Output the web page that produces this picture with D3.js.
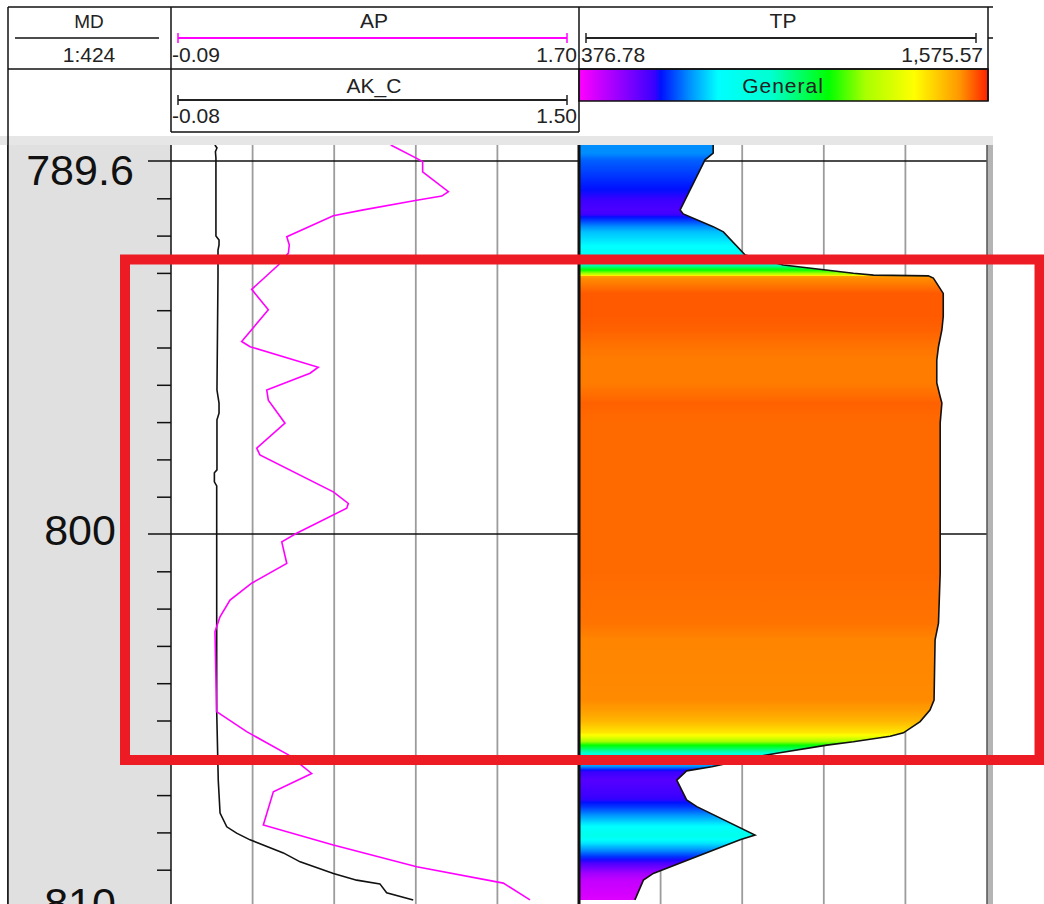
<!DOCTYPE html>
<html>
<head>
<meta charset="utf-8">
<script src="https://cdn.jsdelivr.net/npm/d3@7.9.0/dist/d3.min.js"></script>
<style>
  body { margin: 0; background: #fff; }
  svg { display: block; font-family: "Liberation Sans", Arial, sans-serif; }
</style>
</head>
<body>
<svg id="chart" width="1044" height="904"></svg>
<script>
// curve ranges shown in the header
const apRange = [-0.09, 1.70];
const akRange = [-0.08, 1.50];
const tpRange = [376.78, 1575.57];
const depthLabels = ["789.6", "800", "810"];
const depthMajor = [790, 800, 810];

// AP (magenta)
const apDepth = [789.57, 789.93, 790.02, 790.29, 790.82, 790.94, 791.05, 791.31, 791.47, 792.03, 792.25, 792.47, 792.79, 793.44, 793.99, 794.84, 794.98, 795.53, 795.69, 796.14, 796.41, 797.03, 797.70, 797.88, 798.87, 799.18, 799.31, 799.98, 800.21, 800.79, 801.32, 801.77, 802.22, 802.62, 804.76, 805.30, 805.92, 806.42, 806.91, 807.80, 808.34, 808.92, 809.36, 809.81];
const apValue = [0.874, 0.988, 1.014, 1.014, 1.127, 1.098, 0.988, 0.754, 0.622, 0.418, 0.429, 0.425, 0.381, 0.264, 0.337, 0.220, 0.257, 0.556, 0.520, 0.330, 0.337, 0.410, 0.286, 0.300, 0.622, 0.688, 0.681, 0.461, 0.396, 0.418, 0.264, 0.169, 0.125, 0.103, 0.110, 0.242, 0.425, 0.527, 0.359, 0.315, 0.622, 0.988, 1.368, 1.485];

// AK_C (black)
const akDepth = [789.57, 789.65, 789.75, 789.92, 792.01, 792.12, 792.25, 792.39, 793.08, 796.14, 796.49, 796.76, 796.94, 798.28, 798.36, 798.60, 798.71, 804.75, 806.60, 807.48, 807.85, 808.02, 808.20, 808.55, 808.79, 809.10, 809.28, 809.38, 809.62, 809.81];
const akValue = [0.090, 0.098, 0.092, 0.094, 0.094, 0.106, 0.106, 0.102, 0.102, 0.098, 0.106, 0.106, 0.098, 0.098, 0.088, 0.088, 0.097, 0.097, 0.103, 0.110, 0.136, 0.174, 0.226, 0.355, 0.420, 0.549, 0.639, 0.729, 0.755, 0.858];

// TP (colour filled)
const tpDepth = [789.57, 789.79, 789.97, 791.31, 791.42, 791.76, 791.90, 792.52, 792.79, 792.88, 793.01, 793.06, 793.08, 793.14, 793.55, 794.17, 794.53, 794.98, 795.34, 795.95, 796.32, 796.49, 797.02, 801.05, 802.39, 802.84, 804.45, 804.72, 805.03, 805.33, 805.42, 805.57, 805.66, 805.88, 805.95, 806.24, 806.35, 806.60, 807.13, 807.31, 808.07, 808.20, 809.10, 809.28, 809.81];
const tpValue = [771, 771, 747, 674, 683, 771, 801, 865, 977, 1065, 1183, 1242, 1403, 1418, 1447, 1447, 1443, 1433, 1428, 1428, 1438, 1443, 1438, 1438, 1433, 1423, 1420, 1408, 1379, 1330, 1291, 1183, 1105, 958, 914, 767, 693, 664, 693, 723, 894, 850, 595, 566, 541];

// "General" colour map
const paletteStops = [0, 0.09, 0.185, 0.2, 0.27, 0.34, 0.47, 0.61, 0.7, 0.82, 0.93, 1];
const paletteColors = ["#ff00ff", "#a000ff", "#3a00ff", "#0010ff", "#0090ff", "#00ffff", "#00ffd0", "#00ff00", "#a8ff00", "#ffff00", "#ff9800", "#ff2000"];
const fillRange = [510, 1480];

const svg = d3.select("#chart");
const defs = svg.append("defs");

const plotTop = 145, plotBottom = 904;
const xLeft = 8, depthRight = 171, apRight = 579, tpRight = 987;

const y = d3.scaleLinear().domain([790, 800]).range([161, 534]);
const apX = d3.scaleLinear().domain(apRange).range([depthRight, apRight]);
const akX = d3.scaleLinear().domain(akRange).range([depthRight, apRight]);
const tpX = d3.scaleLinear().domain(tpRange).range([apRight, tpRight]);
const palette = d3.scaleLinear().domain(paletteStops).range(paletteColors).interpolate(d3.interpolateRgb);
const fillT = d3.scaleLinear().domain(fillRange).range([0, 1]).clamp(true);
const fillColor = v => palette(fillT(v));

const zip = (ds, vs) => ds.map((d, i) => ({depth: d, value: vs[i]}));
const apData = zip(apDepth, apValue);
const akData = zip(akDepth, akValue);
const tpData = zip(tpDepth, tpValue);

// ---------- header ----------
const head = svg.append("g");
head.append("rect").attr("x", 0).attr("y", 136).attr("width", 993).attr("height", 9).attr("fill", "#e6e6e6");

// colour bar
const barGrad = defs.append("linearGradient").attr("id", "bar").attr("x1", 0).attr("x2", 1).attr("y1", 0).attr("y2", 0);
paletteStops.forEach((s, i) => barGrad.append("stop").attr("offset", s).attr("stop-color", paletteColors[i]));
head.append("rect").attr("x", apRight).attr("y", 69).attr("width", 988 - apRight).attr("height", 32)
  .attr("fill", "url(#bar)").attr("stroke", "#111").attr("stroke-width", 1.5);

const hl = (x1, y1, x2, y2, c, w) => head.append("line").attr("x1", x1).attr("y1", y1).attr("x2", x2).attr("y2", y2)
  .attr("stroke", c || "#111").attr("stroke-width", w || 1.5);
hl(xLeft, 7, 993, 7);
hl(xLeft, 69, 988, 69);
hl(depthRight, 132, apRight, 132);
hl(xLeft, 7, xLeft, plotBottom);
hl(depthRight, 7, depthRight, 132);
hl(apRight, 7, apRight, 132);
hl(988, 7, 988, 101);
hl(988, 38, 993, 38);

// scale bars with end ticks
function scaleBar(x1, x2, yy, c) {
  hl(x1, yy, x2, yy, c, 2);
  hl(x1, yy - 5, x1, yy + 5, c, 1.5);
  hl(x2, yy - 5, x2, yy + 5, c, 1.5);
}
hl(15, 38, 159, 38);
scaleBar(178, 567, 38, "#ff00ff");
scaleBar(178, 567, 100, "#222");
scaleBar(586, 976, 38, "#222");

const txt = (s, x, yy, anchor, size) => head.append("text").text(s).attr("x", x).attr("y", yy)
  .attr("text-anchor", anchor || "middle").attr("font-size", size || 21).attr("fill", "#222");
txt("MD", 89, 28, "middle", 19);
txt("1:424", 89, 62);
txt("AP", 374, 28);
txt("-0.09", 172, 62, "start");
txt("1.70", 577, 62, "end");
txt("AK_C", 374, 93);
txt("-0.08", 172, 123, "start");
txt("1.50", 577, 123, "end");
txt("TP", 783, 28);
txt("376.78", 581, 62, "start");
txt("1,575.57", 983, 62, "end");
txt("General", 783, 93).attr("letter-spacing", 1);

// ---------- tracks ----------
defs.append("clipPath").attr("id", "plot").append("rect")
  .attr("x", 0).attr("y", plotTop).attr("width", 1044).attr("height", plotBottom - plotTop);
const plot = svg.append("g").attr("clip-path", "url(#plot)");

plot.append("rect").attr("x", xLeft).attr("y", plotTop).attr("width", depthRight - xLeft).attr("height", plotBottom - plotTop)
  .attr("fill", "#e0e0e0");
plot.append("line").attr("x1", xLeft).attr("x2", xLeft).attr("y1", plotTop).attr("y2", plotBottom).attr("stroke", "#111").attr("stroke-width", 1.5);

// minor depth ticks
const axis = d3.axisLeft(y).tickValues(d3.range(790, 811).filter(d => !depthMajor.includes(d))).tickSize(14).tickFormat("");
const ax = plot.append("g").attr("transform", `translate(${depthRight},0)`).call(axis);
ax.select(".domain").remove();
ax.selectAll("line").attr("stroke", "#111").attr("stroke-width", 1.5);

// vertical gridlines
const grid = d3.scaleLinear().domain([0, 5]);
[[depthRight, apRight], [apRight, tpRight]].forEach(([a, b]) => {
  grid.range([a, b]);
  plot.selectAll(null).data([1, 2, 3, 4]).join("line")
    .attr("x1", d => grid(d)).attr("x2", d => grid(d)).attr("y1", plotTop).attr("y2", plotBottom)
    .attr("stroke", "#9c9c9c").attr("stroke-width", 1.8);
});

// major depth lines
plot.selectAll(null).data(depthMajor).join("line")
  .attr("x1", 148).attr("x2", tpRight).attr("y1", d => y(d)).attr("y2", d => y(d))
  .attr("stroke", "#111").attr("stroke-width", 1.3);

plot.selectAll(null).data(depthMajor).join("text")
  .text((d, i) => depthLabels[i])
  .attr("x", 80).attr("y", d => Math.max(y(d) + 11, plotTop + 40))
  .attr("text-anchor", "middle").attr("font-size", 43).attr("fill", "#111");

// TP fill coloured by value, banded along depth
const tpGrad = defs.append("linearGradient").attr("id", "tpfill").attr("gradientUnits", "userSpaceOnUse")
  .attr("x1", 0).attr("x2", 0).attr("y1", plotTop).attr("y2", plotBottom);
const span = plotBottom - plotTop;
for (let i = 0; i < tpData.length - 1; i++) {
  const a = tpData[i], b = tpData[i + 1];
  for (let k = 0; k < 10; k++) {
    const t = k / 10;
    const yy = y(a.depth + (b.depth - a.depth) * t);
    tpGrad.append("stop").attr("offset", (yy - plotTop) / span).attr("stop-color", fillColor(a.value + (b.value - a.value) * t));
  }
}
const last = tpData[tpData.length - 1];
tpGrad.append("stop").attr("offset", (y(last.depth) - plotTop) / span).attr("stop-color", fillColor(last.value));

const area = d3.area().y(d => y(d.depth)).x0(apRight).x1(d => tpX(d.value));
plot.append("path").datum(tpData).attr("d", area).attr("fill", "url(#tpfill)");
plot.append("path").datum(tpData).attr("d", d3.line().x(d => tpX(d.value)).y(d => y(d.depth)))
  .attr("fill", "none").attr("stroke", "#111").attr("stroke-width", 1.6);

// AK_C and AP curves
plot.append("path").datum(akData).attr("d", d3.line().x(d => akX(d.value)).y(d => y(d.depth)))
  .attr("fill", "none").attr("stroke", "#111").attr("stroke-width", 1.6);
plot.append("path").datum(apData).attr("d", d3.line().x(d => apX(d.value)).y(d => y(d.depth)))
  .attr("fill", "none").attr("stroke", "#ff00ff").attr("stroke-width", 1.6);

// track borders
plot.append("line").attr("x1", depthRight).attr("x2", depthRight).attr("y1", plotTop).attr("y2", plotBottom).attr("stroke", "#111").attr("stroke-width", 1.5);
plot.append("line").attr("x1", apRight).attr("x2", apRight).attr("y1", plotTop).attr("y2", plotBottom).attr("stroke", "#111").attr("stroke-width", 3);
plot.append("rect").attr("x", tpRight).attr("y", plotTop).attr("width", 6).attr("height", span).attr("fill", "#b4b4b4");
plot.append("line").attr("x1", tpRight).attr("x2", tpRight).attr("y1", plotTop).attr("y2", plotBottom).attr("stroke", "#555").attr("stroke-width", 1.5);

// highlight frame
svg.append("rect").attr("x", 125).attr("y", 259.5).attr("width", 914.5).attr("height", 500.5)
  .attr("fill", "none").attr("stroke", "#ed1c24").attr("stroke-width", 10);
</script>
</body>
</html>
